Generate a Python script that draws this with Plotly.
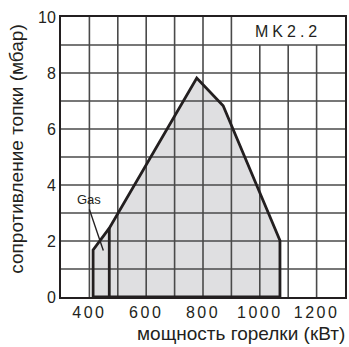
import plotly.graph_objects as go

# Data
area_x = [413, 413, 470, 778, 871, 1071, 1071, 413]
area_y = [0, 1.68, 2.46, 7.82, 6.83, 2.02, 0, 0]
gas_x = [470, 470]
gas_y = [0, 2.46]
pointer_x = [400, 449]
pointer_y = [3.13, 1.66]
gas_label = "Gas"
model_label = "MK2.2"
x_tickvals = list(range(300, 1301, 100))
x_ticktext = ["", "400", "", "600", "", "800", "", "1000", "", "1200", ""]
y_tickvals = list(range(0, 11))
y_ticktext = ["0", "", "2", "", "4", "", "6", "", "8", "", "10"]
label_box_from = 1000   # grid columns from here stop below the label row

FONT = "Liberation Sans, Arial, sans-serif"
INK = "#231f20"
GRID = "#4a4a4a"


def spaced(t, px):
    return t if t == "" else f'<span style="letter-spacing:{px}px">{t}</span>'


x_lo, x_hi = x_tickvals[0], x_tickvals[-1]
y_lo, y_hi = y_tickvals[0], y_tickvals[-1]

fig = go.Figure()

# filled area
fig.add_trace(go.Scatter(x=area_x, y=area_y, mode="none", fill="toself",
                         fillcolor="#dfdfe1", hoverinfo="skip", showlegend=False))

# grid drawn over the fill (built from the tick values)
gx, gy = [], []
for v in x_tickvals[1:-1]:
    top = y_tickvals[-2] if v >= label_box_from else y_hi
    gx += [v, v, None]
    gy += [y_lo, top, None]
for v in y_tickvals[1:-1]:
    gx += [x_lo, x_hi, None]
    gy += [v, v, None]
fig.add_trace(go.Scatter(x=gx, y=gy, mode="lines", line=dict(color=GRID, width=1.6),
                         hoverinfo="skip", showlegend=False))

# outlines
fig.add_trace(go.Scatter(x=area_x, y=area_y, mode="lines",
                         line=dict(color=INK, width=2.8),
                         hoverinfo="skip", showlegend=False))
fig.add_trace(go.Scatter(x=gas_x, y=gas_y, mode="lines",
                         line=dict(color=INK, width=2.8), showlegend=False, hoverinfo="skip"))
fig.add_trace(go.Scatter(x=pointer_x, y=pointer_y, mode="lines",
                         line=dict(color=INK, width=1.4), showlegend=False, hoverinfo="skip"))

fig.add_annotation(x=398, y=3.48, text=gas_label, showarrow=False,
                   font=dict(family=FONT, size=13, color=INK))
fig.add_annotation(x=1100, y=9.5, text=spaced(model_label, 4), showarrow=False,
                   font=dict(family=FONT, size=16, color=INK))
fig.add_annotation(xref="paper", yref="paper", x=1.0, y=-0.13, xanchor="right", yanchor="middle",
                   xshift=2, text="мощность горелки (кВт)", showarrow=False,
                   font=dict(family=FONT, size=19, color=INK))
fig.add_annotation(xref="paper", yref="paper", x=-0.158, y=0.53, xanchor="center", yanchor="middle",
                   text="сопротивление топки (мбар)", textangle=-90, showarrow=False,
                   font=dict(family=FONT, size=19, color=INK))

fig.update_layout(
    width=349, height=347,
    margin=dict(l=61, r=4, t=17, b=50, autoexpand=False),
    paper_bgcolor="white", plot_bgcolor="white",
    font=dict(family=FONT, color=INK),
    xaxis=dict(range=[x_lo, x_hi], tickvals=x_tickvals,
               ticktext=[spaced(t, 2.5) for t in x_ticktext],
               showgrid=False,
               showline=True, linecolor=INK, linewidth=2, mirror=True,
               zeroline=False, ticks="", tickfont=dict(size=16, family=FONT, color=INK)),
    yaxis=dict(range=[y_lo, y_hi], tickvals=y_tickvals, ticktext=y_ticktext,
               showgrid=False,
               showline=True, linecolor=INK, linewidth=2, mirror=True,
               zeroline=False, ticks="",
               tickfont=dict(size=16, family=FONT, color=INK)),
)

fig.write_html("out.html", config={"displayModeBar": False},
               post_script="document.body.style.margin='0';document.body.style.overflow='hidden';")
